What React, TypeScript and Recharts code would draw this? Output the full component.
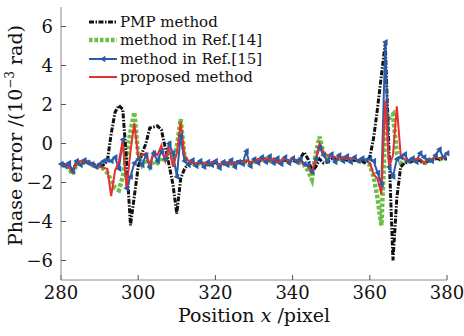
import { LineChart, Line, XAxis, YAxis } from 'recharts'

// position x (pixel)
const positions = [
  280, 281, 282, 283, 284, 285, 286, 287, 288, 289,
  290, 291, 292, 293, 294, 295, 296, 297, 298, 299,
  300, 301, 302, 303, 304, 305, 306, 307, 308, 309,
  310, 311, 312, 313, 314, 315, 316, 317, 318, 319,
  320, 321, 322, 323, 324, 325, 326, 327, 328, 329,
  330, 331, 332, 333, 334, 335, 336, 337, 338, 339,
  340, 341, 342, 343, 344, 345, 346, 347, 348, 349,
  350, 351, 352, 353, 354, 355, 356, 357, 358, 359,
  360, 361, 362, 363, 364, 365, 366, 367, 368, 369,
  370, 371, 372, 373, 374, 375, 376, 377, 378, 379,
  380,
]

// phase error, 10^-3 rad
const pmp = [
  -1.0, -1.1, -1.15, -1.4, -1.0, -0.95, -0.95, -0.95, -1.05, -1.1,
  -1.15, -1.1, -0.9, 0.5, 1.6, 1.95, 1.75, -0.9, -4.2, -2.7,
  -1.2, -0.5, 0.0, 0.8, 0.85, 0.9, 0.7, -0.2, -1.1, -2.1,
  -3.6, -1.8, -1.3, -1.05, -1.0, -1.05, -0.95, -1.05, -1.1, -1.0,
  -0.95, -1.1, -1.0, -1.0, -1.05, -1.0, -0.9, -0.95, -0.9, -1.0,
  -0.9, -0.85, -0.85, -0.8, -0.85, -0.8, -0.95, -0.85, -0.85, -0.9,
  -0.85, -0.9, -0.75, -0.45, -0.8, -1.4, -1.2, -0.8, -1.0, -0.95,
  -0.8, -0.75, -0.8, -0.75, -0.85, -0.8, -0.85, -0.9, -0.9, -1.0,
  -0.7, 0.3, 1.8, 3.5, 5.1, -0.5, -6.0, -2.8, -1.2, -1.0,
  -0.95, -0.9, -0.85, -0.85, -1.0, -0.9, -0.85, -0.75, -0.8, -0.75,
  -0.75,
]
const ref14 = [
  -1.1, -1.15, -1.25, -1.6, -1.05, -0.95, -1.0, -0.95, -1.1, -1.2,
  -1.2, -1.3, -1.5, -1.9, -2.3, -2.4, -1.7, -0.6, 0.6, 1.6,
  -0.6, -1.1, -0.8, -1.2, -0.9, -1.0, -0.7, -0.9, -0.5, -0.8,
  -0.2, 1.25, -0.7, -0.95, -1.05, -1.1, -1.0, -1.05, -1.15, -1.0,
  -1.0, -1.15, -1.05, -1.0, -1.1, -1.05, -0.95, -1.0, -0.95, -1.05,
  -0.95, -0.85, -0.9, -0.8, -0.9, -0.85, -1.0, -0.9, -0.85, -0.95,
  -0.85, -0.9, -1.0, -1.1, -1.4, -1.85, -0.5, 0.35, -0.5, -0.7,
  -0.7, -0.75, -0.8, -0.75, -0.85, -0.8, -0.85, -0.9, -0.9, -1.0,
  -1.1, -1.7, -2.8, -4.2, 0.7, 1.3, 1.5, -0.5, -1.0, -0.9,
  -0.95, -0.9, -0.85, -0.85, -1.05, -0.9, -0.85, -0.75, -0.8, -0.78,
  -0.78,
]
const ref15 = [
  -1.05, -1.15, -1.0, -1.4, -0.9, -1.1, -0.85, -1.0, -1.05, -1.2,
  -1.05, -0.9, -0.85, -0.9, -0.7, -1.3, 0.2, -2.3, -1.7, -1.0,
  -0.8, -1.1, -0.6, -1.2, -0.5, -0.9, -0.4, -0.8, 0.0, -0.5,
  -1.7, 0.4, -0.9, -1.1, -0.85, -1.15, -0.9, -1.2, -0.95, -1.1,
  -0.9, -1.25, -0.95, -1.1, -0.85, -1.2, -0.95, -1.05, -0.4, -1.15,
  -0.8, -1.0, -0.7, -0.95, -0.65, -1.0, -0.75, -1.05, -0.7, -1.0,
  -0.75, -0.95, -0.8, -1.05, -1.1, -1.45, -0.8, -0.2, -0.6, -0.9,
  -0.55, -0.95, -0.6, -0.9, -0.65, -0.95, -0.7, -0.9, -0.75, -0.85,
  -0.8, -0.9, -1.5, -2.1, 5.2, -1.2, -1.7, -0.8, -0.7, -0.55,
  -0.9, -0.75, -0.95, -0.5, -0.7, -0.85, -0.9, -0.6, -0.3, -0.7,
  -0.5,
]
const proposed = [
  -1.05, -1.1, -1.2, -1.5, -1.0, -0.9, -0.95, -0.9, -1.1, -1.15,
  -1.2, -1.25, -1.3, -2.7, -1.4, -0.9, 0.1, -2.3, -0.4, 1.05,
  -0.7, -0.6, -0.5, -1.1, -0.4, -0.6, -0.1, -0.9, -0.2, -1.2,
  -0.5, 1.1, -0.6, -0.9, -1.0, -1.05, -0.95, -1.0, -1.1, -0.95,
  -0.95, -1.1, -1.0, -0.95, -1.05, -1.0, -0.9, -0.95, -0.85, -1.0,
  -0.9, -0.8, -0.85, -0.75, -0.85, -0.8, -0.95, -0.85, -0.8, -0.9,
  -0.8, -0.85, -0.95, -1.0, -1.2, -1.5, -0.75, 0.0, -0.45, -0.6,
  -0.65, -0.7, -0.75, -0.7, -0.8, -0.75, -0.8, -0.85, -0.8, -0.9,
  -1.0, -1.6, -1.8, -2.6, 2.2, -1.2, -0.6, 1.9, -0.6, -0.8,
  -0.9, -0.85, -0.8, -0.8, -1.0, -0.85, -0.8, -0.7, -0.75, -0.72,
  -0.72,
]

const xTicks = [280, 300, 320, 340, 360, 380]
const yTicks = [-6, -4, -2, 0, 2, 4, 6]
const legendNames = ['PMP method', 'method in Ref.[14]', 'method in Ref.[15]', 'proposed method']

const data = positions.map((x, i) => ({ x, pmp: pmp[i], ref14: ref14[i], ref15: ref15[i], proposed: proposed[i] }))

const FONT = "'DejaVu Serif', 'Liberation Serif', serif"
const BLUE = '#2b5ba8'
const GREEN = '#6cbf46'
const RED = '#e8302c'
const AXIS = '#8a8a8a'

const fmt = (v: number) => (v < 0 ? '\u2212' + Math.abs(v) : String(v))

function LeftTri({ cx, cy }: any) {
  if (cx == null || cy == null) return null
  return <path d={`M${cx - 3.2},${cy} L${cx + 2.4},${cy - 3.2} L${cx + 2.4},${cy + 3.2} Z`} fill={BLUE} />
}

function XTick({ x, y, payload }: any) {
  return (
    <text x={x} y={y} dy={13} textAnchor="middle" fontFamily={FONT} fontSize={18} fill="#111">
      {fmt(payload.value)}
    </text>
  )
}

function YTick({ x, y, payload }: any) {
  return (
    <text x={x} y={y} dy={6} textAnchor="end" fontFamily={FONT} fontSize={18} fill="#111">
      {fmt(payload.value)}
    </text>
  )
}

function XTitle({ viewBox }: any) {
  const { x, y, width } = viewBox
  return (
    <text x={x + width / 2} y={y + 42} textAnchor="middle" fontFamily={FONT} fontSize={19} fill="#111">
      Position <tspan fontStyle="italic">x</tspan> /pixel
    </text>
  )
}

function YTitle({ viewBox }: any) {
  const { x, y, height } = viewBox
  const cx = x + 22
  const cy = y + height / 2 - 8
  return (
    <text x={cx} y={cy} transform={`rotate(-90 ${cx} ${cy})`} textAnchor="middle" fontFamily={FONT} fontSize={19} fill="#111">
      Phase error /(10<tspan dy={-8} fontSize={12}>{'\u22123'}</tspan><tspan dy={8}> rad)</tspan>
    </text>
  )
}

function Sample({ i }: { i: number }) {
  if (i === 0) return <svg width={28} height={10}><line x1={0} y1={5} x2={28} y2={5} stroke="#111" strokeWidth={3} strokeDasharray="5 1.5 1.5 1.5" /></svg>
  if (i === 1) return <svg width={28} height={10}><line x1={0} y1={5} x2={28} y2={5} stroke={GREEN} strokeWidth={4.5} strokeDasharray="3.5 2" /></svg>
  if (i === 2) return <svg width={28} height={10}><line x1={0} y1={5} x2={28} y2={5} stroke={BLUE} strokeWidth={2} /><LeftTri cx={14} cy={5} /></svg>
  return <svg width={28} height={10}><line x1={0} y1={5} x2={28} y2={5} stroke={RED} strokeWidth={2} /></svg>
}

export default function App() {
  return (
    <div style={{ position: 'absolute', left: 0, top: 0, width: 464, height: 336, background: '#fff', fontFamily: FONT }}>
      <LineChart width={464} height={336} data={data} margin={{ top: 7, right: 17, bottom: 0, left: 0 }}>
        <XAxis dataKey="x" type="number" domain={[280, 380]} ticks={xTicks} height={56}
          tick={<XTick />}
          axisLine={{ stroke: AXIS }} tickLine={{ stroke: '#555' }} tickSize={-5} tickMargin={11}
          label={<XTitle />} />
        <XAxis xAxisId="top" dataKey="x" type="number" domain={[280, 380]} orientation="top" height={0}
          tick={false} tickLine={false} axisLine={{ stroke: AXIS }} />
        <YAxis type="number" domain={[-7, 7]} ticks={yTicks} width={61}
          tick={<YTick />}
          axisLine={{ stroke: AXIS }} tickLine={{ stroke: '#555' }} tickSize={-5} tickMargin={13}
          label={<YTitle />} />
        <YAxis yAxisId="right" type="number" domain={[-7, 7]} orientation="right" width={0}
          tick={false} tickLine={false} axisLine={{ stroke: AXIS }} />
        <Line type="linear" dataKey="ref14" stroke={GREEN} strokeWidth={4.5} strokeDasharray="3.5 2"
          dot={false} isAnimationActive={false} />
        <Line type="linear" dataKey="pmp" stroke="#111" strokeWidth={3} strokeDasharray="5 1.5 1.5 1.5"
          dot={false} isAnimationActive={false} />
        <Line type="linear" dataKey="ref15" stroke={BLUE} strokeWidth={2}
          dot={<LeftTri />} isAnimationActive={false} />
        <Line type="linear" dataKey="proposed" stroke={RED} strokeWidth={2}
          dot={false} isAnimationActive={false} />
      </LineChart>
      <div style={{ position: 'absolute', left: 89, top: 13, fontSize: 15, color: '#111', lineHeight: '18.3px' }}>
        {legendNames.map((n, i) => (
          <div key={n} style={{ display: 'flex', alignItems: 'center', height: 18.3 }}>
            <Sample i={i} />
            <span style={{ marginLeft: 3 }}>{n}</span>
          </div>
        ))}
      </div>
    </div>
  )
}
